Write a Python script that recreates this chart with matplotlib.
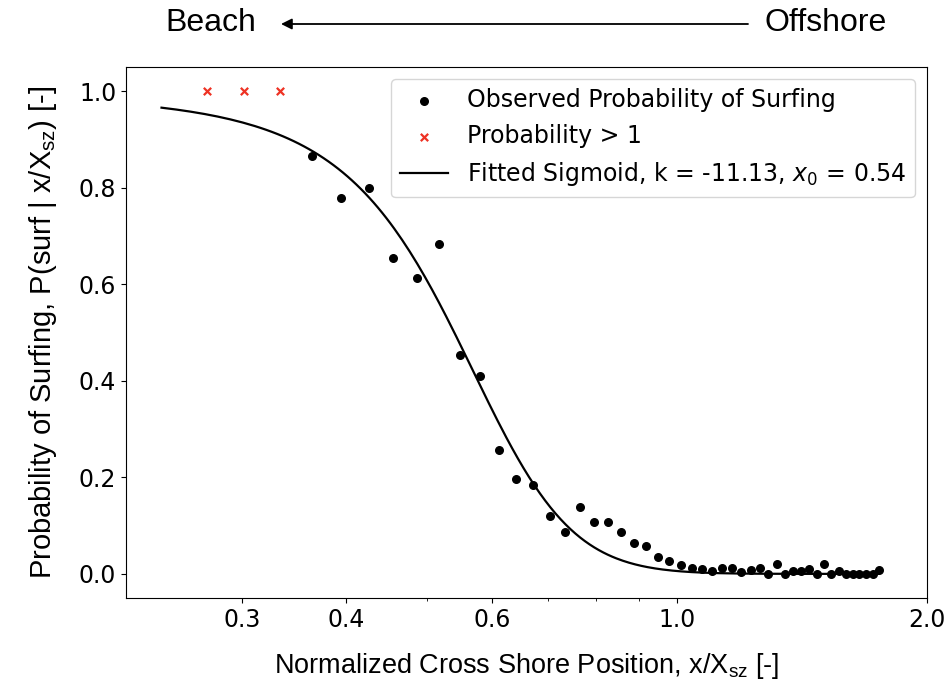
import matplotlib
matplotlib.use('agg')
import matplotlib.pyplot as plt
from matplotlib.ticker import NullFormatter, FixedFormatter
import numpy as np

# normalized cross-shore position of each bin (x / X_sz)
x_over = [0.272, 0.302, 0.333]
p_over = [1.0, 1.0, 1.0]

x_obs = [0.364, 0.395, 0.426, 0.456, 0.487, 0.518, 0.549, 0.580, 0.611, 0.641,
         0.672, 0.703, 0.734, 0.765, 0.795, 0.826, 0.857, 0.888, 0.919, 0.950,
         0.980, 1.011, 1.042, 1.073, 1.104, 1.134, 1.165, 1.196, 1.227, 1.258,
         1.289, 1.319, 1.350, 1.381, 1.412, 1.443, 1.473, 1.504, 1.535, 1.566,
         1.597, 1.628, 1.658, 1.689, 1.720, 1.751]
p_obs = [0.865, 0.778, 0.799, 0.654, 0.613, 0.684, 0.454, 0.409, 0.257, 0.197,
         0.184, 0.119, 0.086, 0.139, 0.108, 0.108, 0.086, 0.064, 0.057, 0.035,
         0.026, 0.019, 0.013, 0.010, 0.007, 0.012, 0.012, 0.004, 0.008, 0.013,
         0.0, 0.020, 0.0, 0.006, 0.006, 0.010, 0.0, 0.020, 0.0, 0.006,
         0.0, 0.0, 0.0, 0.0, 0.0, 0.008]

# sigmoid fit parameters
k_fit = -11.13
x0_fit = 0.54
x_fit_range = (0.24, 1.75)

xticks = [0.3, 0.4, 0.6, 1.0, 2.0]
xticklabels = ['0.3', '0.4', '0.6', '1.0', '2.0']
yticks = [0.0, 0.2, 0.4, 0.6, 0.8, 1.0]


def sigmoid(x, k, x0):
    return 1.0 / (1.0 + np.exp(-k * (x - x0)))


label_font = ['Liberation Sans', 'DejaVu Sans']

fig = plt.figure(figsize=(9.5, 6.9), dpi=100)
ax = fig.add_axes([0.1326, 0.1333, 0.8432, 0.7696])

xs = np.linspace(x_fit_range[0], x_fit_range[1], 300)
h_obs = ax.scatter(x_obs, p_obs, s=30, color='k', zorder=3,
                   label='Observed Probability of Surfing')
h_over = ax.scatter(x_over, p_over, s=28, marker='x', color='#ee3224',
                    linewidths=1.6, zorder=3, label='Probability > 1')
h_fit, = ax.plot(xs, sigmoid(xs, k_fit, x0_fit), color='k', lw=1.6,
                 label='Fitted Sigmoid, k = %.2f, $x_0$ = %.2f' % (k_fit, x0_fit))

ax.set_xscale('log')
ax.set_xticks(xticks)
ax.xaxis.set_major_formatter(FixedFormatter(xticklabels))
ax.xaxis.set_minor_formatter(NullFormatter())
ax.set_xlim(0.2175, 2.0)
ax.set_yticks(yticks)
ax.set_ylim(-0.05, 1.05)
ax.tick_params(labelsize=17)

ax.set_xlabel(r'Normalized Cross Shore Position, x/X$_\mathregular{sz}$ [-]',
              fontsize=19.5, family=label_font, labelpad=14)
ax.set_ylabel(r'Probability of Surfing, P(surf | x/X$_\mathregular{sz}$) [-]',
              fontsize=21, family=label_font, labelpad=14)

ax.legend(handles=[h_obs, h_over, h_fit], loc='upper right', fontsize=17)

# direction indicator above the axes
fig.text(165 / 950, 1 - 23 / 690, 'Beach', fontsize=23, family=label_font,
         ha='left', va='center')
fig.text(887 / 950, 1 - 23 / 690, 'Offshore', fontsize=23, family=label_font,
         ha='right', va='center')
ax.annotate('', xy=(281 / 950, 1 - 24 / 690), xytext=(748 / 950, 1 - 24 / 690),
            xycoords='figure fraction', textcoords='figure fraction',
            arrowprops=dict(arrowstyle='-|>', color='k', lw=1.3,
                            mutation_scale=16, shrinkA=0, shrinkB=0))

fig.savefig('out.png', dpi=100)
